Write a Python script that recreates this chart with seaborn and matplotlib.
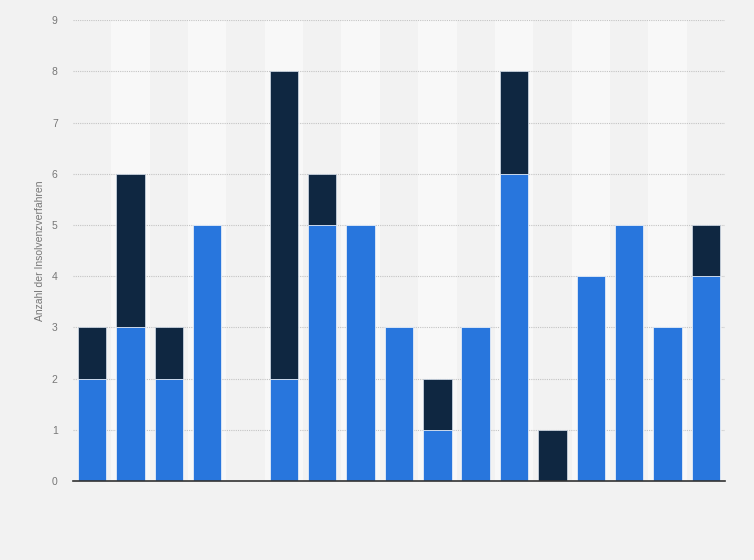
import pandas as pd
import seaborn as sns
import matplotlib.pyplot as plt

# Values (17 columns, no category labels shown)
positions = [str(i) for i in range(1, 18)]
blue_vals = [2, 3, 2, 5, 0, 2, 5, 5, 3, 1, 3, 6, 0, 4, 5, 3, 4]
dark_vals = [1, 3, 1, 0, 0, 6, 1, 0, 0, 1, 0, 2, 1, 0, 0, 0, 1]
y_ticks = list(range(0, 10))
y_label = "Anzahl der Insolvenzverfahren"

blue = "#2876dd"
dark = "#0f2741"
bg = "#f2f2f2"

df = pd.DataFrame({"pos": positions, "blue": blue_vals, "dark": dark_vals})
df["total"] = df["blue"] + df["dark"]

sns.set_style("white")
plt.rcParams["font.family"] = ["Liberation Sans", "DejaVu Sans"]

fig = plt.figure(figsize=(7.54, 5.6), dpi=100, facecolor=bg)
ax = fig.add_axes([0.0968, 0.141, 0.8647, 0.823])
ax.set_facecolor(bg)

# alternating column bands
for i in range(len(positions)):
    if i % 2 == 1:
        ax.axvspan(i - 0.5, i + 0.5, color="#f8f8f8", zorder=-1, lw=0)

ax.yaxis.grid(True, linestyle=(0, (1, 1)), color="#c4c4c4", linewidth=0.8)
ax.set_axisbelow(True)

# stacked bars: full total in dark, blue segment drawn over the bottom
sns.barplot(data=df, x="pos", y="total", order=positions, color=dark,
            saturation=1, width=0.74, edgecolor="#c8d2de", linewidth=0.6,
            ax=ax, zorder=2)
sns.barplot(data=df, x="pos", y="blue", order=positions, color=blue,
            saturation=1, width=0.74, edgecolor="#e8f0fb", linewidth=0.6,
            ax=ax, zorder=3)
for p in ax.patches:
    if p.get_height() == 0:
        p.set_linewidth(0)

ax.set_xlim(-0.5, len(positions) - 0.5)
ax.set_ylim(0, 9)
ax.set_yticks(y_ticks)
ax.set_yticklabels([str(t) for t in y_ticks], color="#777777", fontsize=7.5)
ax.set_xticks([])
ax.set_xlabel("")
ax.set_ylabel(y_label, color="#777777", fontsize=7.5, labelpad=5)
ax.tick_params(axis="y", length=0, pad=11)

for side in ["top", "right", "left"]:
    ax.spines[side].set_visible(False)
ax.spines["bottom"].set_color("#333333")
ax.spines["bottom"].set_linewidth(1.2)
ax.spines["bottom"].set_zorder(5)

fig.savefig("out.png", dpi=100, facecolor=bg)
